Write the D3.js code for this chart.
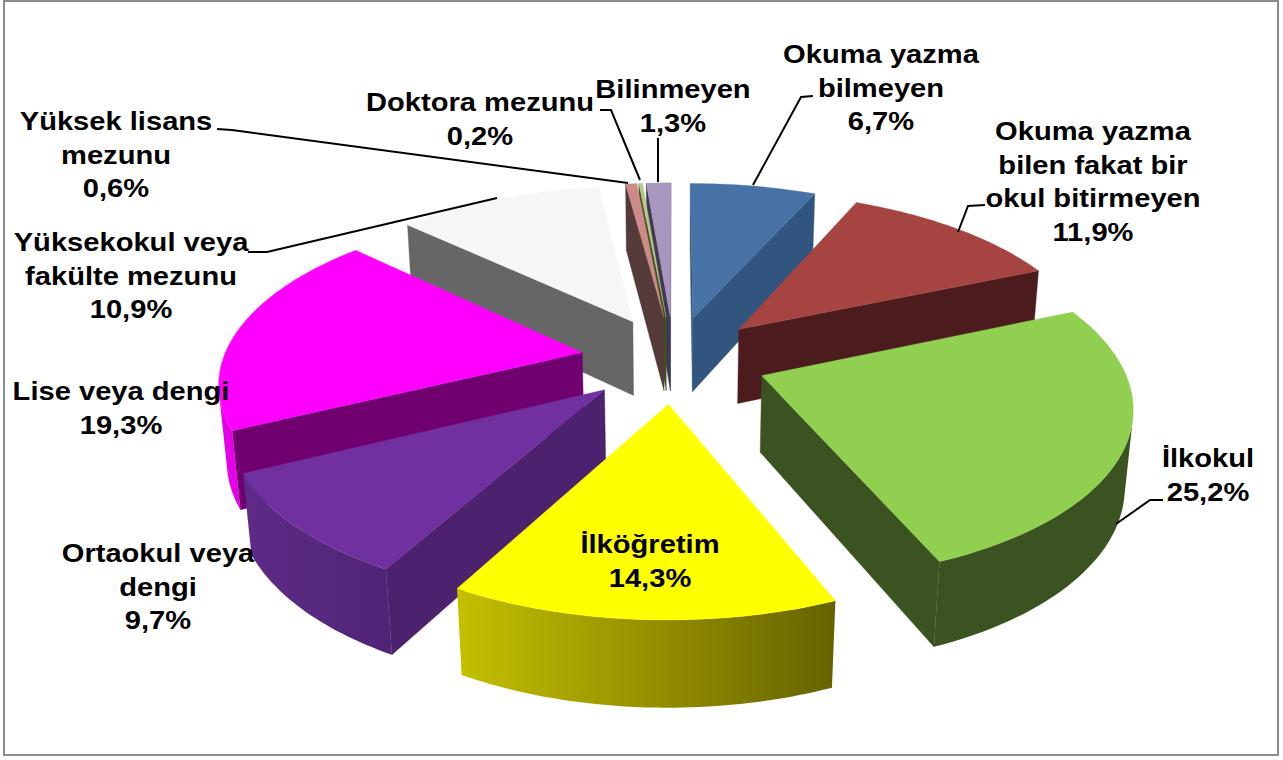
<!DOCTYPE html>
<html><head><meta charset="utf-8">
<script src="https://cdn.jsdelivr.net/npm/d3@7/dist/d3.min.js"></script>
<style>html,body{margin:0;padding:0;background:#fff}svg{display:block}text{font-family:"Liberation Sans",Arial,sans-serif;font-weight:700;font-size:26px;fill:#000}</style>
</head><body><svg id="c" width="1283" height="760"></svg>
<script>
const categories=["Okuma yazma bilmeyen","Okuma yazma bilen fakat bir okul bitirmeyen","İlkokul","İlköğretim","Ortaokul veya dengi","Lise veya dengi","Yüksekokul veya fakülte mezunu","Yüksek lisans mezunu","Doktora mezunu","Bilinmeyen"];
const values=[6.7,11.9,25.2,14.3,9.7,19.3,10.9,0.6,0.2,1.3];
const valueLabels=["6,7%","11,9%","25,2%","14,3%","9,7%","19,3%","10,9%","0,6%","0,2%","1,3%"];
const topColors=["#4672a6","#a64442","#90cf50","#ffff00","#7030a0","#ff00ff","#f7f6f4","#cd8a86","#b3c88a","#a796bd"];
const wallColors=["#31557e","#4b1b1d","#3b5320","#8f8b00","#4c226f","#700070","#666666","#553a3a","#3f5020","#3f3a52"];
const rimLeft=["#3a6494","#5e2526","#3b5320","#c4c000","#5e2b88","#e600e6","#6e6e6e","#553a3a","#3f5020","#3f3a52"];
const rimRight=["#2f5480","#4b1b1d","#3b5320","#666200","#4f2475","#e600e6","#6e6e6e","#553a3a","#3f5020","#3f3a52"];
const labelLines=[["Okuma yazma","bilmeyen","6,7%"],["Okuma yazma","bilen fakat bir","okul bitirmeyen","11,9%"],["İlkokul","25,2%"],["İlköğretim","14,3%"],["Ortaokul veya","dengi","9,7%"],["Lise veya dengi","19,3%"],["Yüksekokul veya","fakülte mezunu","10,9%"],["Yüksek lisans","mezunu","0,6%"],["Doktora mezunu","0,2%"],["Bilinmeyen","1,3%"]];

const labelAnchors=[[881,63],[1093,140],[1208,467],[650,553],[158,562],[121,400],[131,251],[116,130],[480,111],[673,98]];
const leaders=[[[813,96],[801,97],[753,185]],[[985,205],[968,206],[958,232]],[[1163,500],[1150,500],[1116,524]],[[248,252],[267,252],[497,198]],[[217,129],[232,130],[628,183]],[[600,110],[611,110],[640,180]],[[658,138],[658,182]]];

const CX=674,CY=359,RX=359,RY=167,K=0.154,Q=0.018,D=77,EXPLODE=0.26,LINE=33.7,STRETCH=1.12;
function project(u,v,z){const w=1-K*v+Q*z;return [CX+RX*u/w,CY+(RY*v+D*z)/w];}
const svg=d3.select("#c");
const defs=svg.append("defs");
svg.append("rect").attr("x",4).attr("y",1).attr("width",1274).attr("height",754).attr("fill","#fff").attr("stroke","#8c8c8c").attr("stroke-width",2);

const arcs=d3.pie().sort(null).startAngle(0).endAngle(2*Math.PI)(values);
const line=d3.line();
const poly=p=>line(p)+"Z";
const area=p=>d3.polygonArea(p);
const slices=arcs.map((a,i)=>{
  const mid=(a.startAngle+a.endAngle)/2;
  return {i,a,ox:EXPLODE*Math.sin(mid),oy:-EXPLODE*Math.cos(mid)};
}).sort((s,t)=>s.oy-t.oy);

const g=svg.append("g");
slices.forEach(s=>{
  const {i,a,ox,oy}=s;
  const steps=Math.max(2,Math.ceil((a.endAngle-a.startAngle)/0.02));
  const angles=d3.range(steps+1).map(k=>a.startAngle+(a.endAngle-a.startAngle)*k/steps);
  const top=angles.map(t=>project(ox+Math.sin(t),oy-Math.cos(t),0));
  const bot=angles.map(t=>project(ox+Math.sin(t),oy-Math.cos(t),1));
  const tipT=project(ox,oy,0),tipB=project(ox,oy,1);
  const w0=[tipT,top[0],bot[0],tipB];
  const w1=[tipT,top[steps],bot[steps],tipB];
  [[w0,area(w0)>0],[w1,area(w1)<0]].forEach(([q,front])=>{
    if(front) g.append("path").attr("d",poly(q)).attr("fill",wallColors[i]).attr("stroke",wallColors[i]).attr("stroke-width",0.4);
  });
  const xs=top.concat(bot).map(p=>p[0]);
  const gid="rim"+i;
  const lg=defs.append("linearGradient").attr("id",gid).attr("gradientUnits","userSpaceOnUse")
    .attr("x1",d3.min(xs)).attr("x2",d3.max(xs)).attr("y1",0).attr("y2",0);
  lg.append("stop").attr("offset",0).attr("stop-color",rimLeft[i]);
  lg.append("stop").attr("offset",1).attr("stop-color",rimRight[i]);
  let run=[];
  const flush=()=>{
    if(run.length){
      const first=run[0],last=run[run.length-1];
      const pts=d3.range(first,last+2);
      const q=pts.map(k=>top[k]).concat(pts.slice().reverse().map(k=>bot[k]));
      g.append("path").attr("d",poly(q)).attr("fill",`url(#${gid})`);
    }
    run=[];
  };
  for(let k=0;k<steps;k++){
    const q=[top[k],top[k+1],bot[k+1],bot[k]];
    if(area(q)>0) run.push(k); else flush();
  }
  flush();
  g.append("path").attr("d",poly([tipT].concat(top))).attr("fill",topColors[i]).attr("stroke",topColors[i]).attr("stroke-width",0.3);
});

const lg=svg.append("g").attr("fill","none").attr("stroke","#000").attr("stroke-width",2);
leaders.forEach(p=>lg.append("path").attr("d",line(p)));

labelLines.forEach((ls,i)=>{
  const t=svg.append("text").attr("text-anchor","middle").attr("aria-label",categories[i]+" "+valueLabels[i])
    .attr("transform",`translate(${labelAnchors[i][0]},${labelAnchors[i][1]}) scale(${STRETCH},1)`);
  ls.forEach((l,j)=>t.append("tspan").attr("x",0).attr("y",j*LINE).text(l));
});
</script></body></html>
